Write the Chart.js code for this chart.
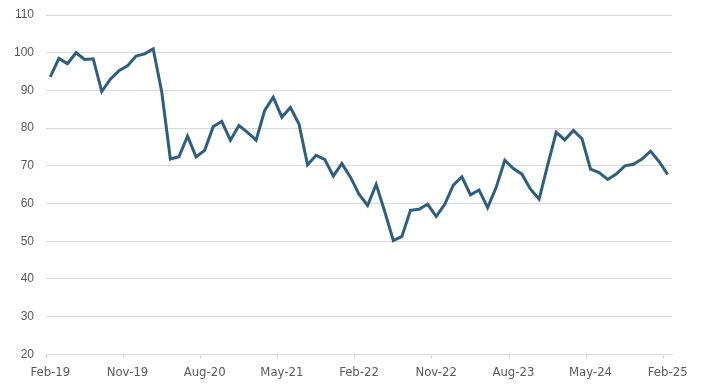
<!DOCTYPE html>
<html>
<head>
<meta charset="utf-8">
<script src="https://cdn.jsdelivr.net/npm/chart.js@4.4.1/dist/chart.umd.min.js"></script>
<style>
  html, body { margin: 0; padding: 0; background: #fff; }
  #wrap { width: 705px; height: 389px; }
</style>
</head>
<body>
<div id="wrap"><canvas id="myChart"></canvas></div>
<script>
const monthNames = ['Jan','Feb','Mar','Apr','May','Jun','Jul','Aug','Sep','Oct','Nov','Dec'];

// months Feb-19 .. Feb-25
const months = [];
for (let i = 0; i < 73; i++) {
    let m = (1 + i) % 12;
    let y = 19 + Math.floor((1 + i) / 12);
    months.push(monthNames[m] + '-' + y);
}

const values = [
    93.6, 98.5, 97.1, 100.0, 98.2, 98.4, 89.7, 93.0, 95.2, 96.5,
    99.1, 99.7, 101.0, 89.5, 71.8, 72.4, 77.9, 72.4, 74.1, 80.4,
    81.8, 76.8, 80.7, 78.9, 76.8, 84.7, 88.2, 82.9, 85.5, 81.1,
    70.3, 72.8, 71.7, 67.3, 70.6, 67.0, 62.5, 59.5, 65.1, 57.9,
    50.2, 51.3, 58.2, 58.5, 59.8, 56.6, 59.8, 64.9, 67.1, 62.3,
    63.6, 58.9, 64.3, 71.5, 69.3, 67.8, 63.8, 61.2, 70.2, 78.9,
    76.9, 79.4, 77.2, 69.1, 68.2, 66.4, 67.8, 70.0, 70.4, 71.8,
    73.9, 71.1, 67.7
];

const yMin = 20;
const yMax = 110;
const yStep = 10;
const labelEvery = 9;

const ctx = document.getElementById('myChart');
const myChart = new Chart(ctx, {
    type: 'line',
    data: {
        labels: months,
        datasets: [{
            data: values,
            borderColor: '#2e5f80',
            borderWidth: 3,
            pointRadius: 0,
            tension: 0,
            fill: false
        }]
    },
    options: {
        responsive: true,
        maintainAspectRatio: false,
        animation: false,
        layout: { padding: { left: 2, right: 33, top: 7, bottom: 3 } },
        plugins: {
            legend: { display: false },
            tooltip: { enabled: false }
        },
        scales: {
            x: {
                type: 'category',
                offset: true,
                grid: {
                    drawOnChartArea: false,
                    drawTicks: true,
                    tickLength: 4,
                    offset: true,
                    // only a tick mark beside every labelled month
                    color: c => (c.index % labelEvery === 0 ? '#d9d9d9' : 'rgba(0,0,0,0)')
                },
                border: { display: true, color: '#d9d9d9', width: 1 },
                ticks: {
                    autoSkip: false,
                    maxRotation: 0,
                    padding: 6,
                    color: '#595959',
                    font: { family: "'DejaVu Sans Condensed', 'Liberation Sans', sans-serif", size: 13 },
                    callback: function(val, index) {
                        return index % labelEvery === 0 ? this.getLabelForValue(val) : '';
                    }
                }
            },
            y: {
                min: yMin,
                max: yMax,
                ticks: {
                    stepSize: yStep,
                    padding: 12,
                    color: '#595959',
                    font: { family: "'Liberation Sans', Arial, sans-serif", size: 12, lineHeight: 0.5 }
                },
                grid: { color: '#d9d9d9', drawTicks: false },
                border: { display: false }
            }
        }
    }
});
</script>
</body>
</html>
